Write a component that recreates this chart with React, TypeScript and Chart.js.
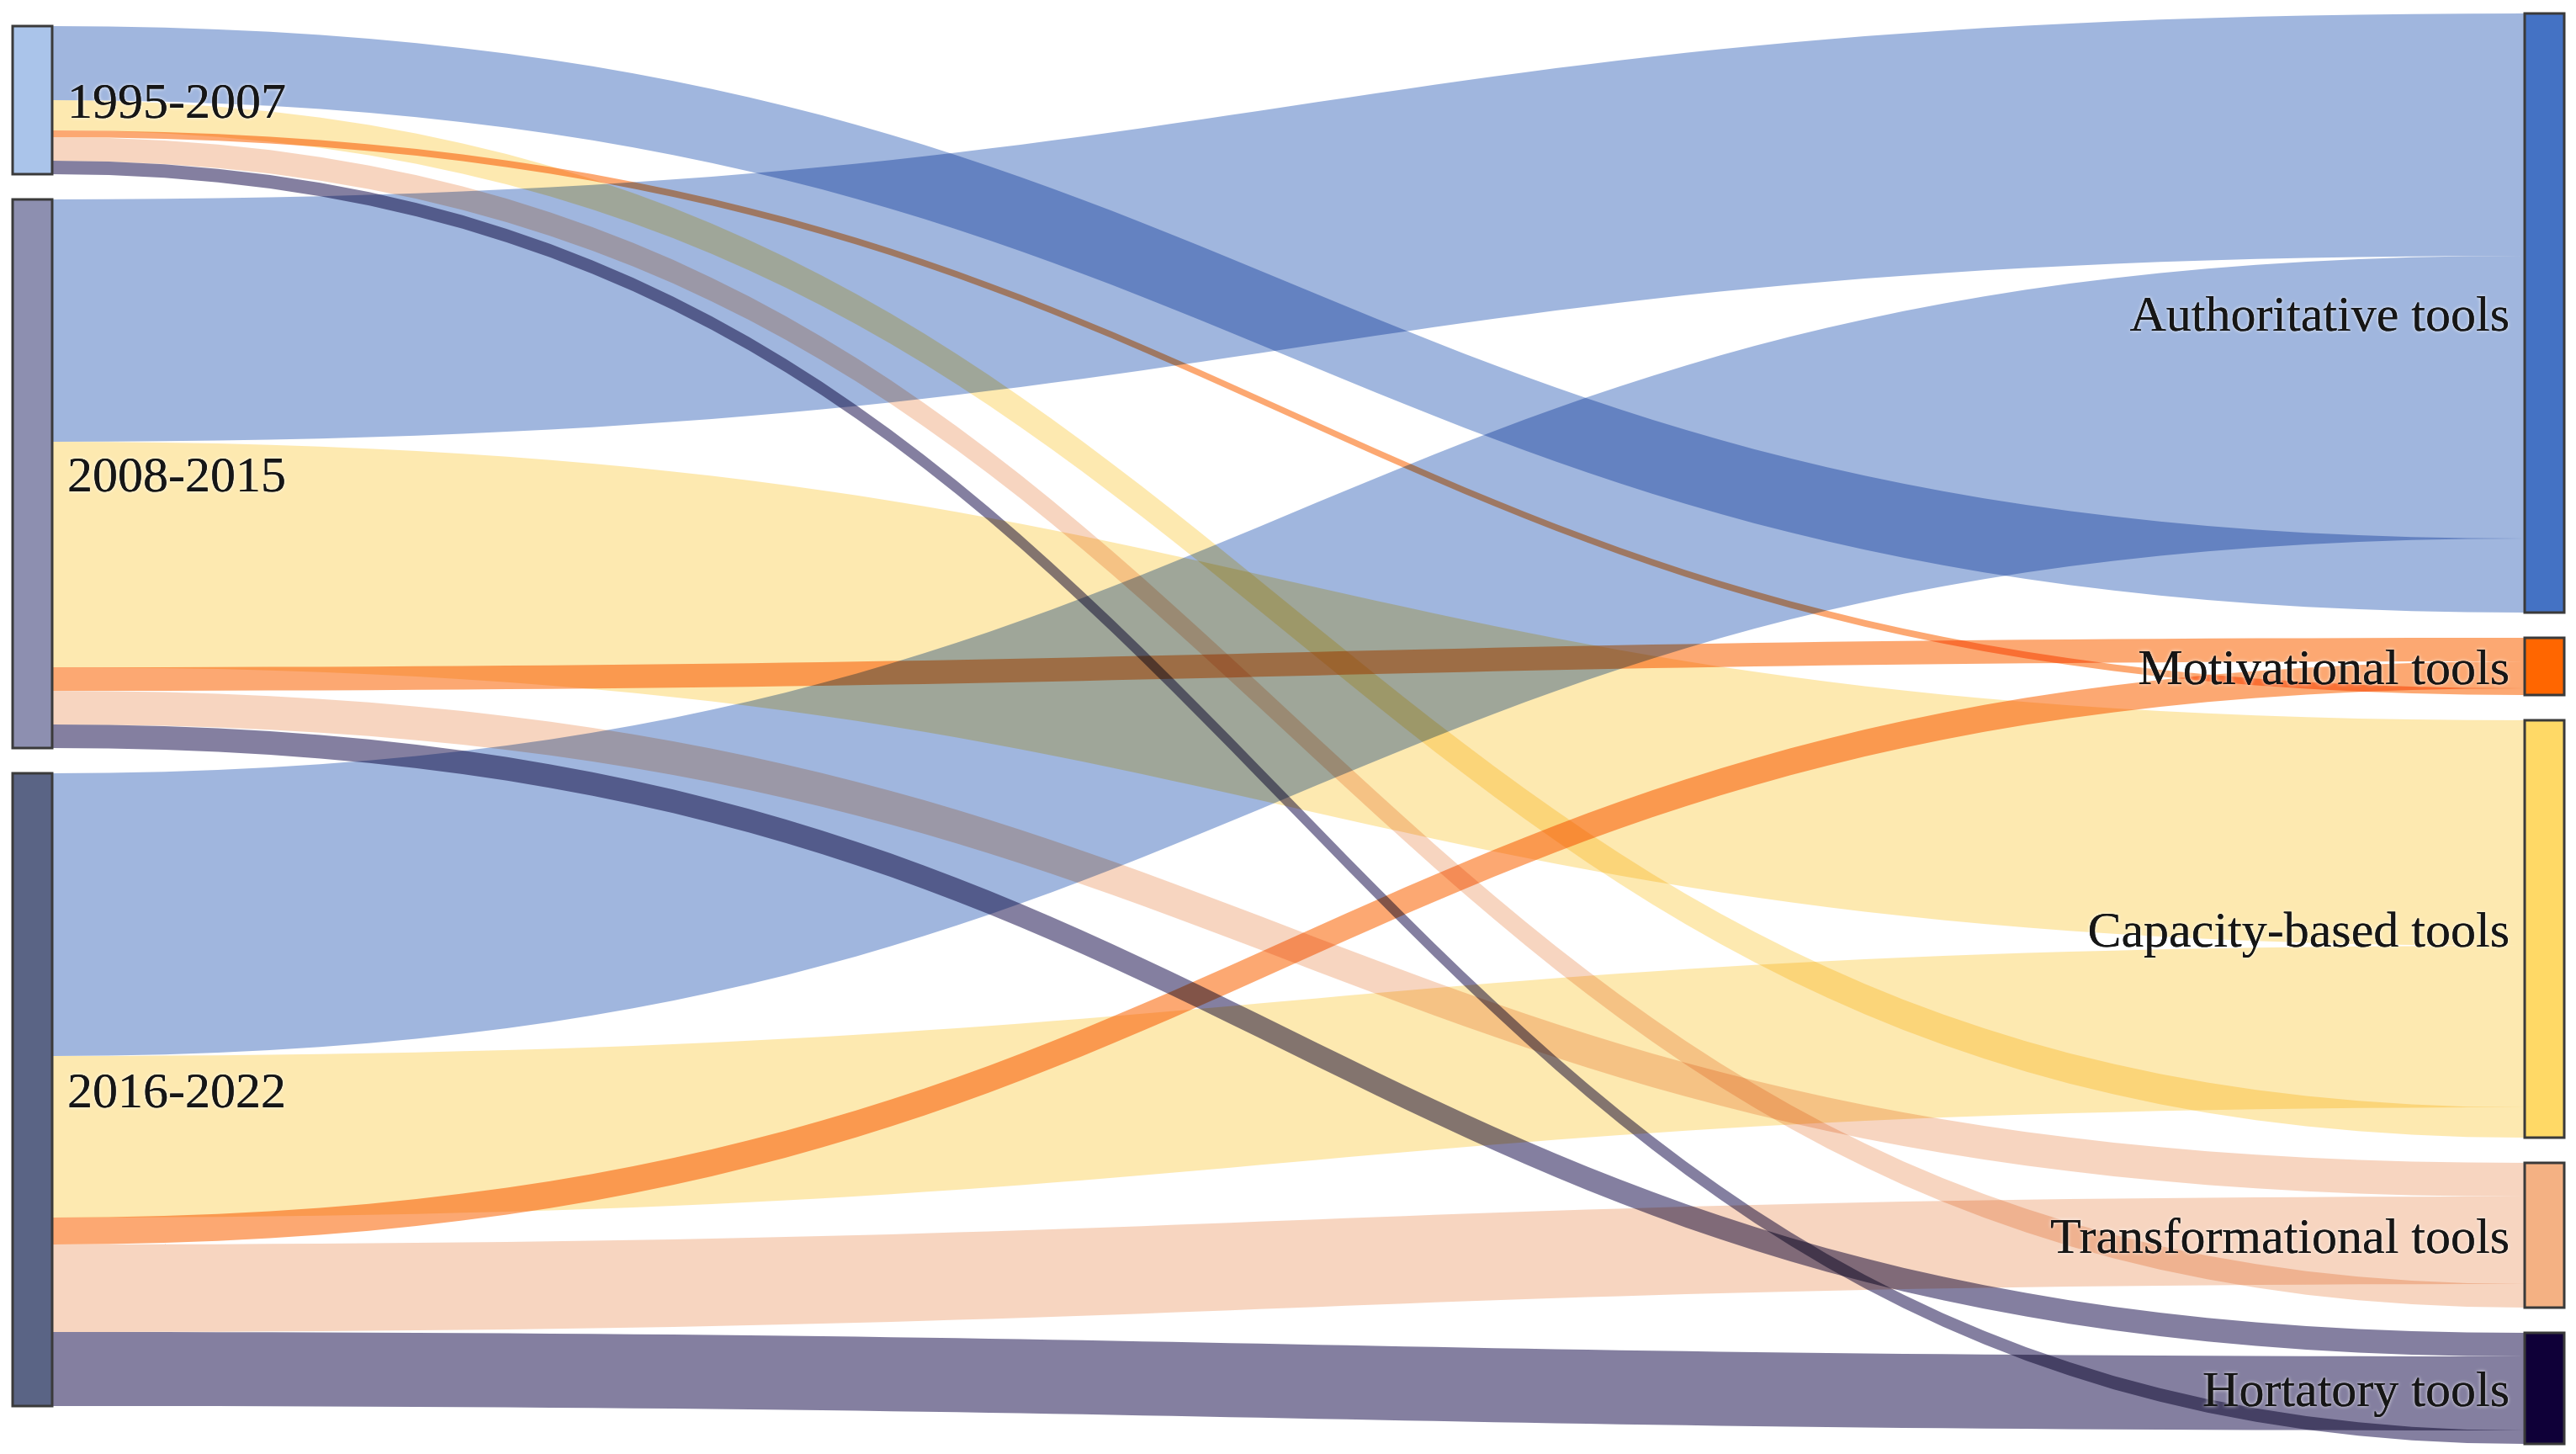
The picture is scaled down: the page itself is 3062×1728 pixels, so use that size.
import React, { useEffect, useRef } from 'react';
import { Chart, registerables } from 'chart.js';

Chart.register(...registerables);

// ---------- data ----------
const SOURCE_LABELS = ['1995-2007', '2008-2015', '2016-2022'];
const TARGET_LABELS = [
  'Authoritative tools',
  'Motivational tools',
  'Capacity-based tools',
  'Transformational tools',
  'Hortatory tools',
];
// flows from each period to each target (in TARGET_LABELS order)
const FLOWS_1995_2007 = [22, 2, 9, 7, 4];
const FLOWS_2008_2015 = [72, 7, 67, 10, 7];
const FLOWS_2016_2022 = [84, 8, 48, 26, 22];

// ---------- layout & style ----------
const W = 3062;
const H = 1728;
const UNIT_PX = 4;
const Y_MAX = H / UNIT_PX;
const LEFT_NODE_X = 15;
const RIGHT_NODE_X = 3001;
const NODE_W = 47;
const LEFT_TOP = 7.75;
const RIGHT_TOP = 4;
const NODE_GAP = 7.5;
const SOURCE_LINK_ORDER = [0, 2, 1, 3, 4];
const TARGET_LINK_ORDER = [1, 2, 0];
const FONT_SIZE = 60;
const LABEL_PAD = 18;

const SOURCE_COLORS = ['#aac4ea', '#8d8fb0', '#5a6485'];
const TARGET_COLORS = ['#4472c4', '#ff6600', '#ffd966', '#f4b183', '#0f0038'];
// link colours, blended with "multiply" where they overlap
const LINK_COLORS = ['#a0b6de', '#fca872', '#fde9b0', '#f7d5c0', '#847fa0'];
const NODE_BORDER = '#3a3a3a';
const TEXT_COLOR = '#161616';

const sankeyPlugin = {
  id: 'sankeyFlows',
  beforeDraw(chart: any) {
    const ctx = chart.ctx as CanvasRenderingContext2D;
    ctx.save();
    ctx.fillStyle = '#ffffff';
    ctx.fillRect(0, 0, chart.width, chart.height);
    ctx.restore();
  },
  afterDatasetsDraw(chart: any) {
    const ctx = chart.ctx as CanvasRenderingContext2D;
    const xs = chart.scales.x;
    const ys = chart.scales.y;
    const flows = [FLOWS_1995_2007, FLOWS_2008_2015, FLOWS_2016_2022];
    const srcTotals = flows.map((f) => f.reduce((a, b) => a + b, 0));
    const tgtTotals = TARGET_LABELS.map((_, t) => flows.reduce((a, f) => a + f[t], 0));

    const srcTop: number[] = [];
    let acc = LEFT_TOP;
    srcTotals.forEach((v) => {
      srcTop.push(acc);
      acc += v + NODE_GAP;
    });
    const tgtTop: number[] = [];
    acc = RIGHT_TOP;
    tgtTotals.forEach((v) => {
      tgtTop.push(acc);
      acc += v + NODE_GAP;
    });

    const srcOff: number[][] = flows.map(() => []);
    flows.forEach((f, s) => {
      let o = srcTop[s];
      SOURCE_LINK_ORDER.forEach((t) => {
        srcOff[s][t] = o;
        o += f[t];
      });
    });
    const tgtOff: number[][] = TARGET_LABELS.map(() => []);
    TARGET_LABELS.forEach((_, t) => {
      let o = tgtTop[t];
      TARGET_LINK_ORDER.forEach((s) => {
        tgtOff[t][s] = o;
        o += flows[s][t];
      });
    });

    const x0 = xs.getPixelForValue(LEFT_NODE_X + NODE_W);
    const x1 = xs.getPixelForValue(RIGHT_NODE_X);
    const xm = (x0 + x1) / 2;

    ctx.save();
    ctx.globalCompositeOperation = 'multiply';
    // links
    flows.forEach((f, s) => {
      SOURCE_LINK_ORDER.forEach((t) => {
        const v = f[t];
        if (!v) return;
        const a0 = ys.getPixelForValue(srcOff[s][t]);
        const a1 = ys.getPixelForValue(srcOff[s][t] + v);
        const b0 = ys.getPixelForValue(tgtOff[t][s]);
        const b1 = ys.getPixelForValue(tgtOff[t][s] + v);
        ctx.beginPath();
        ctx.moveTo(x0, a0);
        ctx.bezierCurveTo(xm, a0, xm, b0, x1, b0);
        ctx.lineTo(x1, b1);
        ctx.bezierCurveTo(xm, b1, xm, a1, x0, a1);
        ctx.closePath();
        ctx.fillStyle = LINK_COLORS[t];
        ctx.fill();
      });
    });
    ctx.globalCompositeOperation = 'source-over';

    // nodes
    ctx.lineWidth = 3;
    ctx.strokeStyle = NODE_BORDER;
    const lx0 = xs.getPixelForValue(LEFT_NODE_X);
    const lx1 = xs.getPixelForValue(LEFT_NODE_X + NODE_W);
    srcTotals.forEach((v, s) => {
      const y0 = ys.getPixelForValue(srcTop[s]);
      const y1 = ys.getPixelForValue(srcTop[s] + v);
      ctx.fillStyle = SOURCE_COLORS[s];
      ctx.fillRect(lx0, y0, lx1 - lx0, y1 - y0);
      ctx.strokeRect(lx0, y0, lx1 - lx0, y1 - y0);
    });
    const rx0 = xs.getPixelForValue(RIGHT_NODE_X);
    const rx1 = xs.getPixelForValue(RIGHT_NODE_X + NODE_W);
    tgtTotals.forEach((v, t) => {
      const y0 = ys.getPixelForValue(tgtTop[t]);
      const y1 = ys.getPixelForValue(tgtTop[t] + v);
      ctx.fillStyle = TARGET_COLORS[t];
      ctx.fillRect(rx0, y0, rx1 - rx0, y1 - y0);
      ctx.strokeRect(rx0, y0, rx1 - rx0, y1 - y0);
    });

    // labels
    ctx.font = `${FONT_SIZE}px "Liberation Serif", "DejaVu Serif", serif`;
    ctx.textBaseline = 'alphabetic';
    const drawLabel = (text: string, x: number, y: number, align: CanvasTextAlign) => {
      ctx.textAlign = align;
      ctx.shadowColor = 'rgba(255,255,255,0.95)';
      ctx.shadowBlur = 4;
      ctx.fillStyle = TEXT_COLOR;
      ctx.fillText(text, x, y);
      ctx.shadowBlur = 0;
      ctx.shadowColor = 'transparent';
      ctx.fillText(text, x, y);
    };
    SOURCE_LABELS.forEach((label, s) => {
      const c = ys.getPixelForValue(srcTop[s] + srcTotals[s] / 2);
      drawLabel(label, lx1 + LABEL_PAD, c + FONT_SIZE * 0.35, 'left');
    });
    TARGET_LABELS.forEach((label, t) => {
      const c = ys.getPixelForValue(tgtTop[t] + tgtTotals[t] / 2);
      drawLabel(label, rx0 - LABEL_PAD, c + FONT_SIZE * 0.35, 'right');
    });
    ctx.restore();
  },
};

export default function App() {
  const canvasRef = useRef<HTMLCanvasElement | null>(null);

  useEffect(() => {
    document.body.style.margin = '0';
    const canvas = canvasRef.current;
    if (!canvas) return;
    const chart = new Chart(canvas, {
      type: 'scatter',
      data: { datasets: [{ data: [], showLine: false }] },
      options: {
        animation: false,
        responsive: false,
        devicePixelRatio: 1,
        layout: { padding: 0 },
        plugins: { legend: { display: false }, tooltip: { enabled: false } },
        scales: {
          x: { type: 'linear', min: 0, max: W, display: false },
          y: { type: 'linear', min: 0, max: Y_MAX, reverse: true, display: false },
        },
      },
      plugins: [sankeyPlugin],
    });
    return () => chart.destroy();
  }, []);

  return (
    <div style={{ position: 'fixed', left: 0, top: 0, width: W, height: H, background: '#ffffff' }}>
      <canvas ref={canvasRef} width={W} height={H} style={{ display: 'block', width: W, height: H }} />
    </div>
  );
}
